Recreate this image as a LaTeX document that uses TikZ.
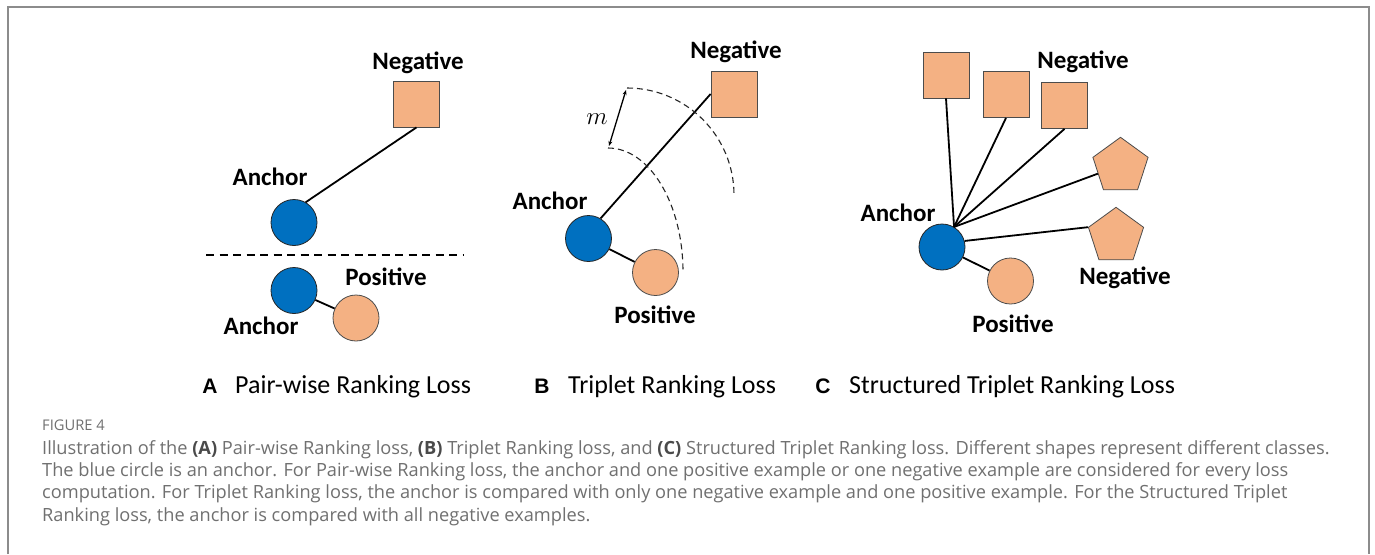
\documentclass[tikz,border=0pt]{standalone}
\usepackage{fontspec}
\usetikzlibrary{shapes.geometric,arrows.meta}
\newfontfamily\carl{Carlito}
\newfontfamily\arl{Liberation Sans}
\newfontfamily\lat{Open Sans}
\definecolor{ablue}{HTML}{0070C0}
\definecolor{aor}{HTML}{F4B183}
\definecolor{framec}{HTML}{8C8C8C}
\definecolor{captxt}{HTML}{707070}
\definecolor{capbold}{HTML}{4A4A4A}
\begin{document}
\begin{tikzpicture}[x=1pt,y=-1pt,
 anc/.style={circle,draw=black!85,line width=0.8pt,fill=ablue,minimum size=46pt,inner sep=0pt},
 posc/.style={circle,draw=black!70,line width=0.8pt,fill=aor,minimum size=46pt,inner sep=0pt},
 negsq/.style={rectangle,draw=black!70,line width=0.8pt,fill=aor,minimum size=46pt,inner sep=0pt},
 negpent/.style={regular polygon,regular polygon sides=5,draw=black!70,line width=0.8pt,fill=aor,minimum size=58pt,inner sep=0pt},
 lbl/.style={font=\carl\bfseries\fontsize{25}{30}\selectfont,text=black,inner sep=0pt},
 link/.style={line width=1.8pt,black},
 sub/.style={font=\carl\fontsize{26}{31}\selectfont,anchor=base west,inner sep=0pt},
 letter/.style={font=\arl\bfseries\fontsize{21}{25}\selectfont,anchor=base,inner sep=0pt},
 capline/.style={font=\lat\fontsize{18.2}{21}\selectfont,text=captxt,anchor=base west,inner sep=0pt},
 arcd/.style={dash pattern=on 6pt off 4pt,line width=1.1pt,black!85}]
\useasboundingbox (0,0) rectangle (1375,554);
\fill[white] (0,0) rectangle (1375,554);
% frame
\draw[framec,line width=2pt] (8,554) -- (8,7) -- (1369,7) -- (1369,554);

% ---------- Panel A ----------
\node[negsq] (negA) at (416.5,104) {};
\node[lbl] (negAl) at (418,63) {Negative};
\node[anc] (ancA) at (294,222.5) {};
\node[lbl] (ancAl) at (270,177) {Anchor};
\draw[link] (ancA.60) -- (negA.south);
\coordinate (dashL) at (206,255);
\coordinate (dashR) at (463,255);
\draw[line width=2.2pt,dash pattern=on 8pt off 5.5pt] (dashL) -- (dashR);
\node[anc] (ancA2) at (294,290.5) {};
\node[posc] (posA) at (356,318) {};
\draw[link] (ancA2) -- (posA);
\node[lbl] (posAl) at (386,277) {Positive};
\node[lbl] (ancA2l) at (261,326) {Anchor};

% ---------- Panel B ----------
\node[negsq] (negB) at (734,94) {};
\node[lbl] (negBl) at (736,52) {Negative};
\node[anc] (ancB) at (588.5,238.5) {};
\node[posc] (posB) at (655.5,272.5) {};
\node[lbl] (ancBl) at (550,201) {Anchor};
\node[lbl] (posBl) at (655,315) {Positive};
\draw[link] (ancB.59) -- (negB.west);
\draw[link] (ancB) -- (posB);
\draw[arcd] (627,88) arc[start angle=-90,end angle=0,radius=107];
\draw[arcd] (608,148) arc[start angle=-90,end angle=0,x radius=75,y radius=124];
\coordinate (mtop) at (626,90);
\coordinate (mbot) at (609,146);
\draw[{Stealth[length=5pt,width=4pt]}-{Stealth[length=5pt,width=4pt]},line width=1.3pt] (mtop) -- (mbot);
\node[font=\fontsize{23}{27}\selectfont,inner sep=0pt] (mlab) at (597,119) {$m$};

% ---------- Panel C ----------
\node[negsq] (sq1) at (946,75) {};
\node[negsq] (sq2) at (1006,94.5) {};
\node[negsq] (sq3) at (1064.5,105.5) {};
\node[negpent] (pt1) at (1120.5,166.3) {};
\node[negpent] (pt2) at (1116,236.3) {};
\node[anc] (ancC) at (942,247) {};
\node[posc] (posC) at (1010.5,281) {};
\node[lbl] (negCl) at (1083,62) {Negative};
\node[lbl] (negC2l) at (1125,278) {Negative};
\node[lbl] (ancCl) at (898,213) {Anchor};
\node[lbl] (posCl) at (1013,324) {Positive};
\draw[link] (ancC.59) -- (sq1.south);
\draw[link] (ancC.59) -- (sq2.south);
\draw[link] (ancC.59) -- (sq3.south);
\draw[link] (ancC.59) -- (pt1.side 2);
\draw[link] (ancC.15) -- (pt2.corner 2);
\draw[link] (ancC) -- (posC);

% ---------- Subtitles ----------
\node[letter] (la) at (210,393) {A};
\node[sub] (ta) at (235,393) {Pair-wise Ranking Loss};
\node[letter] (lb) at (542,393) {B};
\node[sub] (tb) at (568,393) {Triplet Ranking Loss};
\node[letter] (lc) at (823,393) {C};
\node[sub] (tc) at (849,393) {Structured Triplet Ranking Loss};

% ---------- Caption ----------
\node[capline,font=\lat\fontsize{14.7}{17}\selectfont] (fig) at (42,430) {FIGURE 4};
\node[capline] (c1) at (42,454) {Illustration of the \textcolor{capbold}{\bfseries(A)} Pair-wise Ranking loss, \textcolor{capbold}{\bfseries(B)} Triplet Ranking loss, and \textcolor{capbold}{\bfseries(C)} Structured Triplet Ranking loss. Different shapes represent different classes.};
\node[capline] (c2) at (42,476) {The blue circle is an anchor. For Pair-wise Ranking loss, the anchor and one positive example or one negative example are considered for every loss};
\node[capline] (c3) at (42,498.5) {computation. For Triplet Ranking loss, the anchor is compared with only one negative example and one positive example. For the Structured Triplet};
\node[capline] (c4) at (42,521) {Ranking loss, the anchor is compared with all negative examples.};
\end{tikzpicture}
\end{document}
